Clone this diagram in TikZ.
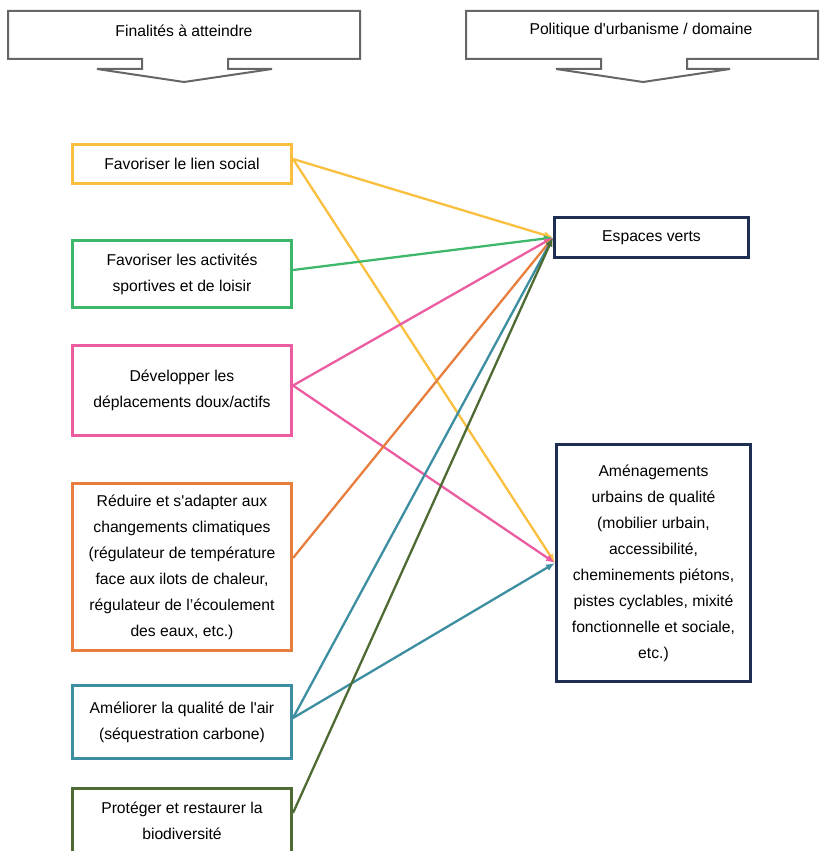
\documentclass[tikz,border=0pt]{standalone}
\usepackage{fontspec}
\setmainfont{Liberation Sans}[Ligatures=TeXOff]
\usetikzlibrary{arrows.meta}

\definecolor{cYellow}{HTML}{FBBF3F}
\definecolor{cGreen}{HTML}{3DB86B}
\definecolor{cPink}{HTML}{EC5CA0}
\definecolor{cOrange}{HTML}{E87E3D}
\definecolor{cTeal}{HTML}{3C8EA0}
\definecolor{cDkGreen}{HTML}{4E6B33}
\definecolor{cNavy}{HTML}{1E2D52}
\definecolor{cHead}{HTML}{666666}

\begin{document}
\begin{tikzpicture}[x=1pt,y=-1pt,
  txt/.style={font=\fontsize{15.7}{26}\selectfont},
  goal/.style={txt, draw=#1, line width=3pt, fill=white, minimum width=219pt,
               inner sep=0pt, align=center},
  urbbox/.style={txt, draw=cNavy, line width=3pt, fill=white, minimum width=194pt,
                 inner sep=0pt, align=center},
  headbox/.style={draw=cHead, line width=2pt, fill=white, line join=miter},
  link/.style={draw=#1, line width=2.3pt, -{Latex[length=9pt,width=7pt]}}
]
\useasboundingbox (0,0) rectangle (819,851);

% column headers: down-arrow callouts
\draw[headbox] (8,11) -- (360,11) -- (360,59) -- (228,59) -- (228,69) -- (272,69)
  -- (184,82) -- (97,69) -- (142,69) -- (142,59) -- (8,59) -- cycle;
\node[txt] (hleft) at (184,31) {Finalités à atteindre};

\draw[headbox] (466,11) -- (818,11) -- (818,59) -- (687,59) -- (687,69) -- (730,69)
  -- (643,82) -- (556,69) -- (601,69) -- (601,59) -- (466,59) -- cycle;
\node[txt] (hright) at (641,30.5) {Politique d'urbanisme / domaine};

% aims (left column)
\node[goal=cYellow, minimum height=39pt] (b1) at (182,164) {Favoriser le lien social};
\node[goal=cGreen, minimum height=67pt] (b2) at (182,274)
  {Favoriser les activités\\sportives et de loisir};
\node[goal=cPink, minimum height=90pt] (b3) at (182,390.5)
  {Développer les\\déplacements doux/actifs};
\node[goal=cOrange, minimum height=167pt] (b4) at (182,567)
  {Réduire et s'adapter aux\\changements climatiques\\(régulateur de température\\face aux ilots de chaleur,\\régulateur de l’écoulement\\des eaux, etc.)};
\node[goal=cTeal, minimum height=73pt] (b5) at (182,722)
  {Améliorer la qualité de l'air\\(séquestration carbone)};
\node[goal=cDkGreen, minimum height=66pt] (b6) at (182,821)
  {Protéger et restaurer la\\biodiversité};

% urban planning domains (right column)
\node[urbbox, minimum height=40pt] (d1) at (651.5,237.5) {Espaces verts};
\node[urbbox, minimum height=237pt] (d2) at (653.5,563)
  {Aménagements\\urbains de qualité\\(mobilier urbain,\\accessibilité,\\cheminements piétons,\\pistes cyclables, mixité\\fonctionnelle et sociale,\\etc.)};

% links from aims to domains
\draw[link=cYellow] ([yshift=5pt]b1.east) -- (d1.west);
\draw[link=cYellow] ([yshift=5pt]b1.east) -- (d2.west);
\draw[link=cGreen] ([yshift=4pt]b2.east) -- (d1.west);
\draw[link=cPink] ([yshift=5pt]b3.east) -- (d1.west);
\draw[link=cPink] ([yshift=5pt]b3.east) -- (d2.west);
\draw[link=cOrange] ([yshift=9pt]b4.east) -- (d1.west);
\draw[link=cTeal] ([yshift=4pt]b5.east) -- (d1.west);
\draw[link=cTeal] ([yshift=4pt]b5.east) -- (d2.west);
\draw[link=cDkGreen] ([yshift=8pt]b6.east) -- (d1.west);
\end{tikzpicture}
\end{document}
